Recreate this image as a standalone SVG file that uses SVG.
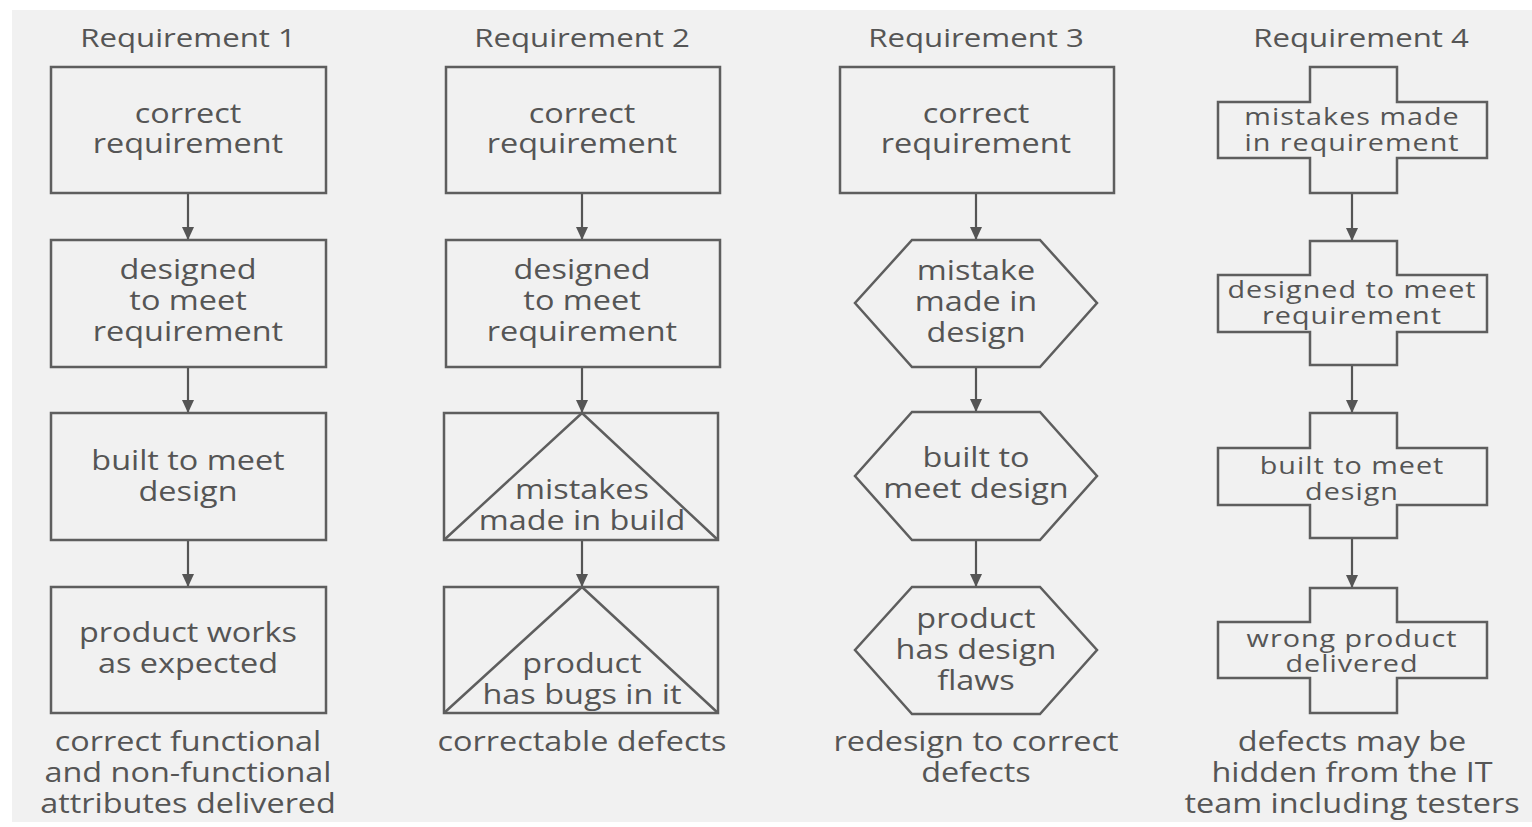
<svg xmlns="http://www.w3.org/2000/svg" width="1532" height="827" viewBox="0 0 1532 827">
<style>
.s{fill:none;stroke:#5e5e5e;stroke-width:2.5;stroke-linejoin:miter}
.t{font-family:"Open Sans","Noto Sans",sans-serif;font-size:27px;fill:#555;text-anchor:middle}
.t4{font-family:"Open Sans","Noto Sans",sans-serif;font-size:23px;fill:#555;text-anchor:middle;letter-spacing:0.8px}
.h{font-family:"Open Sans","Noto Sans",sans-serif;font-size:26px;fill:#555;text-anchor:middle}
.c{stroke:#555;stroke-width:2.2;fill:none}
</style>
<defs>
<marker id="ah" markerUnits="userSpaceOnUse" markerWidth="14" markerHeight="12" refX="13" refY="6" orient="auto">
<path d="M0,0 L13,6 L0,12 Z" fill="#555"/>
</marker>
</defs>
<rect x="0" y="0" width="1532" height="827" fill="#ffffff"/>
<rect x="12" y="10" width="1520" height="812" fill="#f1f1f1"/>

<g id="headings">
<g transform="translate(188,0) scale(1.2,1)"><text class="h" x="0" y="47">Requirement 1</text></g>
<g transform="translate(582,0) scale(1.2,1)"><text class="h" x="0" y="47">Requirement 2</text></g>
<g transform="translate(976,0) scale(1.2,1)"><text class="h" x="0" y="47">Requirement 3</text></g>
<g transform="translate(1361,0) scale(1.2,1)"><text class="h" x="0" y="47">Requirement 4</text></g>
</g>

<g id="connectors">
<line class="c" x1="188" y1="193" x2="188" y2="240" marker-end="url(#ah)"/>
<line class="c" x1="188" y1="367" x2="188" y2="413" marker-end="url(#ah)"/>
<line class="c" x1="188" y1="540" x2="188" y2="587" marker-end="url(#ah)"/>
<line class="c" x1="582" y1="193" x2="582" y2="240" marker-end="url(#ah)"/>
<line class="c" x1="582" y1="367" x2="582" y2="413" marker-end="url(#ah)"/>
<line class="c" x1="582" y1="540" x2="582" y2="587" marker-end="url(#ah)"/>
<line class="c" x1="976" y1="193" x2="976" y2="240" marker-end="url(#ah)"/>
<line class="c" x1="976" y1="367" x2="976" y2="412" marker-end="url(#ah)"/>
<line class="c" x1="976" y1="540" x2="976" y2="587" marker-end="url(#ah)"/>
<line class="c" x1="1352" y1="193" x2="1352" y2="241" marker-end="url(#ah)"/>
<line class="c" x1="1352" y1="365" x2="1352" y2="413" marker-end="url(#ah)"/>
<line class="c" x1="1352" y1="538" x2="1352" y2="588" marker-end="url(#ah)"/>
</g>

<!-- Column 1 -->
<g id="r1n1"><rect class="s" x="51" y="67" width="275" height="126"/>
<g transform="translate(188,0) scale(1.2,1)"><text class="t" x="0" y="123">correct</text><text class="t" x="0" y="153">requirement</text></g></g>
<g id="r1n2"><rect class="s" x="51" y="240" width="275" height="127"/>
<g transform="translate(188,0) scale(1.2,1)"><text class="t" x="0" y="279">designed</text><text class="t" x="0" y="310">to meet</text><text class="t" x="0" y="341">requirement</text></g></g>
<g id="r1n3"><rect class="s" x="51" y="413" width="275" height="127"/>
<g transform="translate(188,0) scale(1.2,1)"><text class="t" x="0" y="470">built to meet</text><text class="t" x="0" y="501">design</text></g></g>
<g id="r1n4"><rect class="s" x="51" y="587" width="275" height="126"/>
<g transform="translate(188,0) scale(1.2,1)"><text class="t" x="0" y="642">product works</text><text class="t" x="0" y="673">as expected</text></g></g>
<g id="r1cap"><g transform="translate(188,0) scale(1.2,1)">
<text class="t" x="0" y="751">correct functional</text>
<text class="t" x="0" y="782">and non-functional</text>
<text class="t" x="0" y="813">attributes delivered</text></g></g>

<!-- Column 2 -->
<g id="r2n1"><rect class="s" x="446" y="67" width="274" height="126"/>
<g transform="translate(582,0) scale(1.2,1)"><text class="t" x="0" y="123">correct</text><text class="t" x="0" y="153">requirement</text></g></g>
<g id="r2n2"><rect class="s" x="446" y="240" width="274" height="127"/>
<g transform="translate(582,0) scale(1.2,1)"><text class="t" x="0" y="279">designed</text><text class="t" x="0" y="310">to meet</text><text class="t" x="0" y="341">requirement</text></g></g>
<g id="r2n3"><rect class="s" x="444" y="413" width="274" height="127"/>
<path class="s" d="M444,540 L582,413 L718,540"/>
<g transform="translate(582,0) scale(1.2,1)"><text class="t" x="0" y="499">mistakes</text><text class="t" x="0" y="530">made in build</text></g></g>
<g id="r2n4"><rect class="s" x="444" y="587" width="274" height="126"/>
<path class="s" d="M444,713 L582,587 L718,713"/>
<g transform="translate(582,0) scale(1.2,1)"><text class="t" x="0" y="673">product</text><text class="t" x="0" y="704">has bugs in it</text></g></g>
<g id="r2cap"><g transform="translate(582,0) scale(1.2,1)"><text class="t" x="0" y="751">correctable defects</text></g></g>

<!-- Column 3 -->
<g id="r3n1"><rect class="s" x="840" y="67" width="274" height="126"/>
<g transform="translate(976,0) scale(1.2,1)"><text class="t" x="0" y="123">correct</text><text class="t" x="0" y="153">requirement</text></g></g>
<g id="r3n2"><polygon class="s" points="912,240 1040,240 1097,303 1040,367 912,367 855,303"/>
<g transform="translate(976,0) scale(1.2,1)"><text class="t" x="0" y="280">mistake</text><text class="t" x="0" y="311">made in</text><text class="t" x="0" y="342">design</text></g></g>
<g id="r3n3"><polygon class="s" points="912,412 1040,412 1097,476 1040,540 912,540 855,476"/>
<g transform="translate(976,0) scale(1.2,1)"><text class="t" x="0" y="467">built to</text><text class="t" x="0" y="498">meet design</text></g></g>
<g id="r3n4"><polygon class="s" points="912,587 1040,587 1097,650 1040,714 912,714 855,650"/>
<g transform="translate(976,0) scale(1.2,1)"><text class="t" x="0" y="628">product</text><text class="t" x="0" y="659">has design</text><text class="t" x="0" y="690">flaws</text></g></g>
<g id="r3cap"><g transform="translate(976,0) scale(1.2,1)"><text class="t" x="0" y="751">redesign to correct</text><text class="t" x="0" y="782">defects</text></g></g>

<!-- Column 4 -->
<g id="r4n1"><path class="s" d="M1310,67 H1397 V102 H1487 V158 H1397 V193 H1310 V158 H1218 V102 H1310 Z"/>
<g transform="translate(1352,0) scale(1.25,1)"><text class="t4" x="0" y="125">mistakes made</text><text class="t4" x="0" y="151">in requirement</text></g></g>
<g id="r4n2"><path class="s" d="M1310,241 H1397 V275 H1487 V332 H1397 V365 H1310 V332 H1218 V275 H1310 Z"/>
<g transform="translate(1352,0) scale(1.25,1)"><text class="t4" x="0" y="298">designed to meet</text><text class="t4" x="0" y="324">requirement</text></g></g>
<g id="r4n3"><path class="s" d="M1310,413 H1397 V448 H1487 V505 H1397 V538 H1310 V505 H1218 V448 H1310 Z"/>
<g transform="translate(1352,0) scale(1.25,1)"><text class="t4" x="0" y="474">built to meet</text><text class="t4" x="0" y="500">design</text></g></g>
<g id="r4n4"><path class="s" d="M1310,588 H1397 V622 H1487 V678 H1397 V713 H1310 V678 H1218 V622 H1310 Z"/>
<g transform="translate(1352,0) scale(1.25,1)"><text class="t4" x="0" y="647">wrong product</text><text class="t4" x="0" y="672">delivered</text></g></g>
<g id="r4cap"><g transform="translate(1352,0) scale(1.2,1)"><text class="t" x="0" y="751">defects may be</text><text class="t" x="0" y="782">hidden from the IT</text><text class="t" x="0" y="813">team including testers</text></g></g>
</svg>
